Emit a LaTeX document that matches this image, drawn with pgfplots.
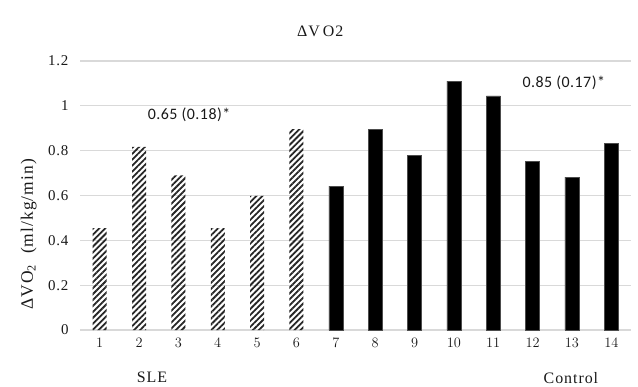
\documentclass[border=0pt]{standalone}
\usepackage{fontspec}
\setmainfont{Liberation Serif}[LetterSpace=6]
\newfontfamily\calib{Carlito}[LetterSpace=3]
\usepackage{pgfplots}
\pgfplotsset{compat=1.18}
\usetikzlibrary{patterns.meta}
\definecolor{gridgray}{RGB}{217,217,217}
\definecolor{txt}{RGB}{25,25,25}
\begin{document}
\begin{tikzpicture}
\begin{axis}[
  at={(0,0)}, anchor=south west,
  scale only axis, width=551bp, height=269bp,
  xmin=0.5, xmax=14.5, ymin=0, ymax=1.2,
  ytick={0,0.2,0.4,0.6,0.8,1,1.2},
  yticklabels={0,0.2,0.4,0.6,0.8,1,1.2},
  xtick={1,2,3,4,5,6,7,8,9,10,11,12,13,14},
  axis line style={draw=none},
  major tick length=0pt,
  ymajorgrids, grid style={gridgray, line width=1.3bp},
  tick label style={font=\fontsize{15}{15}\selectfont, text=txt},
  yticklabel style={xshift=-8bp},
  xticklabel style={yshift=-5bp},
  clip=false,
]
\addplot[ybar, bar width=14bp, bar shift=0pt, draw=none,
  pattern={Lines[angle=45,distance=4.2bp,line width=1.8bp]}, pattern color=black!85]
  coordinates {(1,0.455) (2,0.817) (3,0.69) (4,0.455) (5,0.598) (6,0.896)};
\addplot[ybar, bar width=14bp, bar shift=0pt, draw=black!70, fill=black]
  coordinates {(7,0.642) (8,0.896) (9,0.778) (10,1.11) (11,1.044) (12,0.753) (13,0.682) (14,0.832)};
\node[font=\fontsize{16}{16}\selectfont, text=txt] at (rel axis cs:0.436,1.112) {ΔV\kern3pt O2};
\node[font=\fontsize{17.5}{17.5}\selectfont, text=txt, rotate=90] at (rel axis cs:-0.093,0.355) {ΔVO\textsubscript{2} \ (ml/kg/min)};
\node[font=\calib\fontsize{16}{16}\selectfont, text=txt] at (rel axis cs:0.198,0.799) {0.65 (0.18)*};
\node[font=\calib\fontsize{16}{16}\selectfont, text=txt] at (rel axis cs:0.878,0.918) {0.85 (0.17)*};
\node[font=\fontsize{16}{16}\selectfont, text=txt] at (rel axis cs:0.1307,-0.176) {SLE};
\node[font=\fontsize{16}{16}\selectfont, text=txt] at (rel axis cs:0.891,-0.178) {Control};
\end{axis}
\pgfresetboundingbox
\path (-80bp,-57bp) rectangle (558bp,330bp);
\end{tikzpicture}
\end{document}
